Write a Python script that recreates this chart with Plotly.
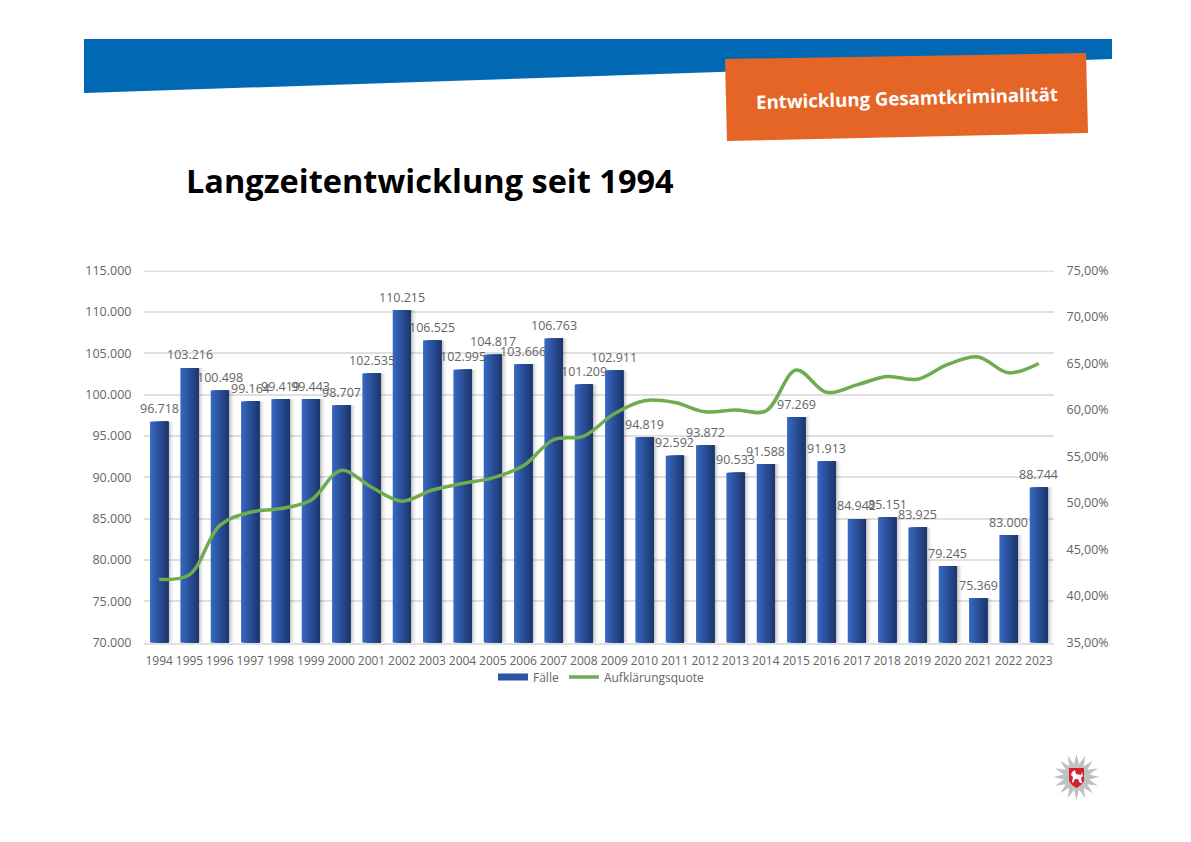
import math
import plotly.graph_objects as go

# Chart data
years = [str(y) for y in range(1994, 2024)]
faelle = [96718, 103216, 100498, 99164, 99419, 99443, 98707, 102535, 110215, 106525,
          102995, 104817, 103666, 106763, 101209, 102911, 94819, 92592, 93872, 90533,
          91588, 97269, 91913, 84942, 85151, 83925, 79245, 75369, 83000, 88744]
quote = [41.8, 42.3, 47.6, 49.0, 49.4, 50.3, 53.5, 51.7, 50.2, 51.4,
         52.1, 52.7, 54.0, 56.8, 57.2, 59.6, 61.0, 60.8, 59.8, 60.0,
         59.9, 64.3, 61.9, 62.7, 63.6, 63.3, 64.9, 65.7, 64.0, 65.0]

W, H = 1191, 842
FONT = 'Open Sans'
GREY = '#646464'
GRID = '#e0e0e0'

# paper coordinates from pixel positions (margins are 0)
def px(x, y):
    return x / W, 1 - y / H

def poly(points):
    parts = []
    for i, (x, y) in enumerate(points):
        a, b = px(x, y)
        parts.append(('M' if i == 0 else 'L') + f'{a:.5f},{b:.5f}')
    return ' '.join(parts) + ' Z'

def deco(points, color):
    return dict(type='path', xref='paper', yref='paper', path=poly(points),
                fillcolor=color, line=dict(width=0), layer='above')

fig = go.Figure()

# soft shadow right of the bars
for end, color in [(0.46, 'rgba(0,0,0,0.05)'), (0.39, 'rgba(0,0,0,0.09)'), (0.34, 'rgba(0,0,0,0.12)')]:
    fig.add_trace(go.Bar(x=years, y=faelle, offset=0.2, width=end - 0.2,
                         marker=dict(color=color, line_width=0),
                         showlegend=False, hoverinfo='skip'))

# plotly has no gradient on bars, so stack narrowing strips
strips = 12
left, right = (54, 103, 192), (30, 56, 112)
for i in range(strips):
    t = i / (strips - 1)
    rgb = [round(a + (b - a) * t) for a, b in zip(left, right)]
    fig.add_trace(go.Bar(x=years, y=faelle,
                         offset=-0.3 + 0.6 * i / strips, width=0.6 - 0.6 * i / strips,
                         marker=dict(color=f'rgb({rgb[0]},{rgb[1]},{rgb[2]})', line_width=0),
                         showlegend=False, hoverinfo='skip'))

# legend entry for the bars
fig.add_trace(go.Scatter(x=[None], y=[None], mode='lines', name='Fälle',
                         line=dict(color='#2c54a4', width=7)))

fig.add_trace(go.Scatter(x=years, y=quote, mode='lines', name='Aufklärungsquote', yaxis='y2',
                         line=dict(color='#6fac50', width=3.5, shape='spline', smoothing=1)))

# header and logo
shapes = [
    deco([(84, 39), (1112, 39), (1112, 59), (84, 93)], '#0168b3'),
    deco([(725, 59), (1086, 53), (1088, 133), (727, 141)], '#e46525'),
    # plotly drops the gridline at the very top of the range
    dict(type='line', xref='x domain', yref='y', x0=0, x1=1, y0=115000, y1=115000,
         line=dict(color=GRID, width=3), layer='below'),
]
star = []
for i in range(32):
    r = 23 if i % 2 == 0 else 13
    a = math.pi * i / 16
    star.append((1076.5 + r * math.sin(a), 777 - r * math.cos(a)))
shapes.append(deco(star, '#bfc2c4'))
shapes.append(deco([(1069, 768), (1084, 768), (1084, 781), (1081, 785), (1076.5, 788),
                    (1072, 785), (1069, 781)], '#d5202b'))
shapes.append(deco([(1072, 772), (1075, 770), (1076, 774), (1081, 775), (1082, 772), (1083, 776),
                    (1081, 778), (1082, 783), (1080, 783), (1078, 779), (1075, 779), (1073, 783),
                    (1072, 782), (1073, 777), (1071, 775)], '#ffffff'))

tx, ty = px(184, 180)
ox, oy = px(907, 98)
annotations = [
    dict(text='Langzeitentwicklung seit 1994', xref='paper', yref='paper', x=tx, y=ty,
         xanchor='left', yanchor='middle', showarrow=False,
         font=dict(family=FONT, size=32.5, color='#000000', weight='bold')),
    dict(text='Entwicklung Gesamtkriminalität', xref='paper', yref='paper', x=ox, y=oy,
         xanchor='center', yanchor='middle', showarrow=False, textangle=-1.5,
         font=dict(family=FONT, size=18.6, color='#ffffff', weight='bold')),
]

# data labels, a bit above the bar tops (annotations on a category axis take the index)
for i, value in enumerate(faelle):
    annotations.append(dict(x=i, y=value, xref='x', yref='y', yshift=13, yanchor='middle',
                            showarrow=False, text=f'{value:,}'.replace(',', '.'),
                            font=dict(family=FONT, size=12.5, color=GREY)))

lx, ly = px(493, 677)
fig.update_layout(
    width=W, height=H,
    margin=dict(l=0, r=0, t=0, b=0, autoexpand=False),
    paper_bgcolor='#ffffff', plot_bgcolor='#ffffff',
    barmode='overlay', separators=',.',
    font=dict(family=FONT, size=12, color=GREY),
    shapes=shapes, annotations=annotations,
    legend=dict(orientation='h', x=lx, y=ly, xanchor='left', yanchor='middle',
                itemwidth=30, font=dict(family=FONT, size=12, color=GREY),
                bgcolor='rgba(0,0,0,0)'),
    xaxis=dict(domain=[144 / W, 1054 / W], type='category', tickmode='linear', range=[-0.5, 29.5],
               tickangle=0, showgrid=False, ticks='outside', ticklen=6, tickcolor='rgba(0,0,0,0)',
               showline=True, linecolor=GRID, linewidth=1.5,
               tickfont=dict(family=FONT, size=12, color=GREY)),
    yaxis=dict(domain=[1 - 642.5 / H, 1 - 270.5 / H], range=[70000, 115000], dtick=5000,
               tickformat=',d', gridcolor=GRID, gridwidth=1.5, zeroline=False,
               ticks='outside', ticklen=9, tickcolor='rgba(0,0,0,0)',
               tickfont=dict(family=FONT, size=12.5, color=GREY)),
    yaxis2=dict(overlaying='y', side='right', range=[35, 75], dtick=5,
                tickformat='.2f', ticksuffix='%', showgrid=False, zeroline=False,
                ticks='outside', ticklen=9, tickcolor='rgba(0,0,0,0)',
                tickfont=dict(family=FONT, size=12.5, color=GREY)),
)

# drop the default body margin so the page lines up with the window
fig.write_html("out.html", config=dict(displayModeBar=False),
               post_script="document.body.style.margin='0';")
